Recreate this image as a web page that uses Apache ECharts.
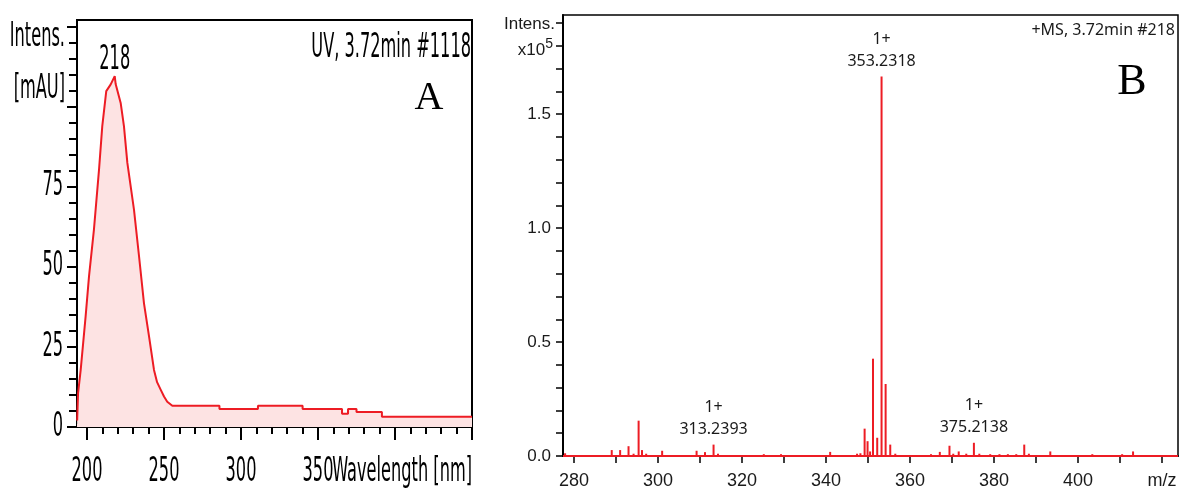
<!DOCTYPE html>
<html>
<head>
<meta charset="utf-8">
<script src="https://cdn.jsdelivr.net/npm/echarts@6/dist/echarts.min.js"></script>
<style>
  html, body { margin: 0; padding: 0; background: #fff; }
  #chart { width: 1181px; height: 490px; }
</style>
</head>
<body>
<div id="chart"></div>
<script>
// UV spectrum (panel A)
const uvWavelength = [193.6, 194.2, 195.9, 199.1, 201.3, 204.5, 207.8, 209.9, 212.5, 215.4, 218, 218.6,
  221.9, 224, 226.2, 230.5, 233.8, 237, 240.3, 243.5, 245.5, 247.9, 250, 252.1, 255.4,
  286, 286, 311, 311, 340, 340, 365.6, 365.6, 369.5, 369.5, 375, 375, 391.5, 391.5, 450];
const uvIntensity = [2, 10.6, 17.8, 34.5, 47, 61.6, 80.3, 93.8, 104.8, 106.9, 109.5, 107,
  101, 93.8, 82.4, 67.8, 53.2, 38.6, 28.2, 17.8, 14, 11.6, 9.5, 7.9, 6.6,
  6.6, 5.6, 5.6, 6.6, 6.6, 5.6, 5.6, 4.1, 4.1, 5.6, 5.6, 4.7, 4.7, 3.2, 3.2];
const uvMajorTicks = [200, 250, 300, 350, 400, 450];
const uvMinorTicks = [200, 210, 220, 230, 240, 250, 260, 270, 280, 290, 300, 310, 320, 330, 340,
  350, 360, 370, 380, 390, 400, 410, 420, 430, 440, 450];
const uvXLabels = [200, 250, 300, 350];
const uvYMajor = [0, 25, 50, 75, 100, 125];
const uvYMinor = [0, 5, 10, 15, 20, 25, 30, 35, 40, 45, 50, 55, 60, 65, 70, 75, 80, 85, 90, 95,
  100, 105, 110, 115, 120, 125];
const uvYLabels = [0, 25, 50, 75];

// MS spectrum (panel B), intensity x10^5
const msMz = [277.9, 289.0, 291.0, 293.0, 294.2, 295.4, 296.2, 297.2, 301.0, 309.2, 311.2, 313.2393,
  314.3, 325.2, 329.3, 341.0, 347.4, 348.2, 349.2, 349.9, 350.5, 351.2, 352.2, 353.2318, 354.2,
  355.3, 356.5, 365.0, 367.1, 369.4, 370.3, 371.6, 373.4, 375.2138, 376.5, 379.1, 381.3, 383.3,
  385.3, 387.2, 388.3, 393.4, 403.4, 410.5, 413.1];
const msIntensity = [0.012, 0.026, 0.026, 0.043, 0.010, 0.155, 0.026, 0.010, 0.023, 0.023, 0.017, 0.05,
  0.010, 0.008, 0.008, 0.018, 0.010, 0.012, 0.12, 0.065, 0.02, 0.427, 0.08, 1.665, 0.316,
  0.05, 0.010, 0.008, 0.018, 0.045, 0.010, 0.020, 0.010, 0.058, 0.010, 0.008, 0.008, 0.008,
  0.008, 0.05, 0.010, 0.02, 0.008, 0.008, 0.02];
const msLabelled = [313.2393, 353.2318, 375.2138];
const msXTicks = [280, 290, 300, 310, 320, 330, 340, 350, 360, 370, 380, 390, 400, 410, 420];
const msXLabels = [280, 300, 320, 340, 360, 380, 400, 420];
const msYTicks = [0, 0.1, 0.2, 0.3, 0.4, 0.5, 0.6, 0.7, 0.8, 0.9, 1.0, 1.1, 1.2, 1.3, 1.4, 1.5,
  1.6, 1.7, 1.8, 1.9];
const msYLabels = [0, 0.5, 1.0, 1.5];

const RED = '#ed1c24';
const NARROW = "'DejaVu Sans Condensed', 'Liberation Sans Narrow', sans-serif";
const ARIAL = "'Liberation Sans', Arial, sans-serif";
const CALIBRI = "'Noto Sans', 'Open Sans', sans-serif";
// panel A text is tall and squeezed in the original
const A_FONT = '18px ' + NARROW;
const A_STRETCH = 1.85;

const chart = echarts.init(document.getElementById('chart'));

const uvData = uvWavelength.map((w, i) => [w, uvIntensity[i]]);
let peakIdx = 0;
uvIntensity.forEach((v, i) => { if (v > uvIntensity[peakIdx]) peakIdx = i; });

const msData = msMz.map((mz, i) => {
  const item = { value: [mz, msIntensity[i]] };
  if (msLabelled.includes(mz)) {
    item.label = {
      show: true,
      position: 'top',
      distance: 4,
      formatter: '1+\n' + mz.toFixed(4),
      fontFamily: CALIBRI,
      fontSize: 16,
      lineHeight: 22,
      color: '#1a1a1a',
    };
  }
  return item;
});

const blackLine = { color: '#000', width: 2 };

const option = {
  animation: false,
  grid: [
    { left: 77, top: 20, width: 395, height: 407, show: true, borderColor: '#000', borderWidth: 2 },
    { left: 563, top: 15, width: 615, height: 445, show: true, borderColor: '#000', borderWidth: 1.5 },
  ],
  xAxis: [
    {
      type: 'value', gridIndex: 0, position: 'bottom', min: 193.5, max: 450,
      axisLine: { lineStyle: blackLine },
      axisTick: { customValues: uvMajorTicks, length: 13, lineStyle: blackLine },
      axisLabel: { show: false },
      splitLine: { show: false },
    },
    {
      type: 'value', gridIndex: 0, position: 'bottom', min: 193.5, max: 450,
      axisLine: { show: false },
      axisTick: { customValues: uvMinorTicks, length: 7, lineStyle: blackLine },
      axisLabel: { show: false },
      splitLine: { show: false },
    },
    {
      type: 'value', gridIndex: 1, position: 'bottom', min: 277.4, max: 423.8,
      axisLine: { lineStyle: blackLine },
      axisTick: { customValues: msXTicks, length: 7, lineStyle: { color: '#000', width: 1.5 } },
      axisLabel: {
        customValues: msXLabels, margin: 16, color: '#1a1a1a',
        fontFamily: ARIAL, fontSize: 18,
        formatter: (v) => (v === 420 ? 'm/z' : String(v)),
      },
      splitLine: { show: false },
    },
  ],
  yAxis: [
    {
      type: 'value', gridIndex: 0, position: 'left', min: 0, max: 127,
      axisLine: { lineStyle: blackLine },
      axisTick: { customValues: uvYMajor, length: 10, lineStyle: blackLine },
      axisLabel: { show: false },
      splitLine: { show: false },
    },
    {
      type: 'value', gridIndex: 0, position: 'left', min: 0, max: 127,
      axisLine: { show: false },
      axisTick: { customValues: uvYMinor, length: 8, lineStyle: blackLine },
      axisLabel: { show: false },
      splitLine: { show: false },
    },
    {
      type: 'value', gridIndex: 1, position: 'left', min: 0, max: 1.935,
      axisLine: { lineStyle: blackLine },
      axisTick: { customValues: msYTicks, length: 7, lineStyle: { color: '#000', width: 1.5 } },
      axisLabel: {
        customValues: msYLabels, margin: 12, color: '#1a1a1a',
        fontFamily: ARIAL, fontSize: 17,
        formatter: (v) => v.toFixed(1),
      },
      splitLine: { show: false },
    },
  ],
  series: [
    {
      type: 'line',
      xAxisIndex: 0,
      yAxisIndex: 0,
      data: uvData,
      symbol: 'none',
      lineStyle: { color: RED, width: 2 },
      areaStyle: { color: '#fde3e3', opacity: 1 },
      markArea: {
        silent: true,
        itemStyle: { color: '#f7b8b8' },
        data: [[{ yAxis: 0 }, { yAxis: 0.9 }]],
      },
      z: 3,
    },
    {
      type: 'bar',
      xAxisIndex: 2,
      yAxisIndex: 2,
      data: msData,
      barWidth: 2,
      itemStyle: { color: RED },
      markLine: {
        silent: true,
        symbol: 'none',
        label: { show: false },
        lineStyle: { color: RED, width: 2, type: 'solid' },
        data: [{ yAxis: 0 }],
      },
    },
  ],
};

chart.setOption(option);

// stretched text for panel A, placed through the axes' own scales
const aText = (text, x, y, align) => ({
  type: 'text', x, y, scaleY: A_STRETCH,
  style: { text, align, verticalAlign: 'middle', font: A_FONT, fill: '#000' },
});

const graphics = [];
uvXLabels.forEach((v) => {
  const px = chart.convertToPixel({ xAxisIndex: 0 }, v);
  graphics.push(aText(String(v), px, 472, 'center'));
});
uvYLabels.forEach((v) => {
  const py = chart.convertToPixel({ yAxisIndex: 0 }, v);
  graphics.push(aText(String(v), 63, py, 'right'));
});
const peakPx = chart.convertToPixel({ gridIndex: 0 }, [uvWavelength[peakIdx], uvIntensity[peakIdx]]);
graphics.push(aText(String(uvWavelength[peakIdx]), peakPx[0], peakPx[1] - 16, 'center'));
graphics.push(aText('Intens.', 65, 37, 'right'));
graphics.push(aText('[mAU]', 65, 89, 'right'));
graphics.push(aText('UV, 3.72min #1118', 471, 48, 'right'));
graphics.push(aText('Wavelength [nm]', 472, 472, 'right'));
graphics.push({
  type: 'text', x: 429, y: 98,
  style: { text: 'A', align: 'center', verticalAlign: 'middle', font: "40px 'Liberation Serif', serif", fill: '#000' },
});

graphics.push({
  type: 'text', x: 555, y: 24,
  style: { text: 'Intens.', align: 'right', verticalAlign: 'middle', font: '17px ' + ARIAL, fill: '#1a1a1a' },
});
graphics.push({
  type: 'text', x: 553, y: 48,
  style: {
    text: '{a|x10}{b|5}', align: 'right', verticalAlign: 'middle', fill: '#1a1a1a',
    rich: {
      a: { fontFamily: ARIAL, fontSize: 17, lineHeight: 22, verticalAlign: 'bottom' },
      b: { fontFamily: ARIAL, fontSize: 14, lineHeight: 22, verticalAlign: 'top' },
    },
  },
});
graphics.push({
  type: 'text', x: 1175, y: 30,
  style: { text: '+MS, 3.72min #218', align: 'right', verticalAlign: 'middle', font: '16px ' + CALIBRI, fill: '#1a1a1a' },
});
graphics.push({
  type: 'text', x: 1132, y: 82,
  style: { text: 'B', align: 'center', verticalAlign: 'middle', font: "44px 'Liberation Serif', serif", fill: '#000' },
});

chart.setOption({ graphic: graphics });
</script>
</body>
</html>
